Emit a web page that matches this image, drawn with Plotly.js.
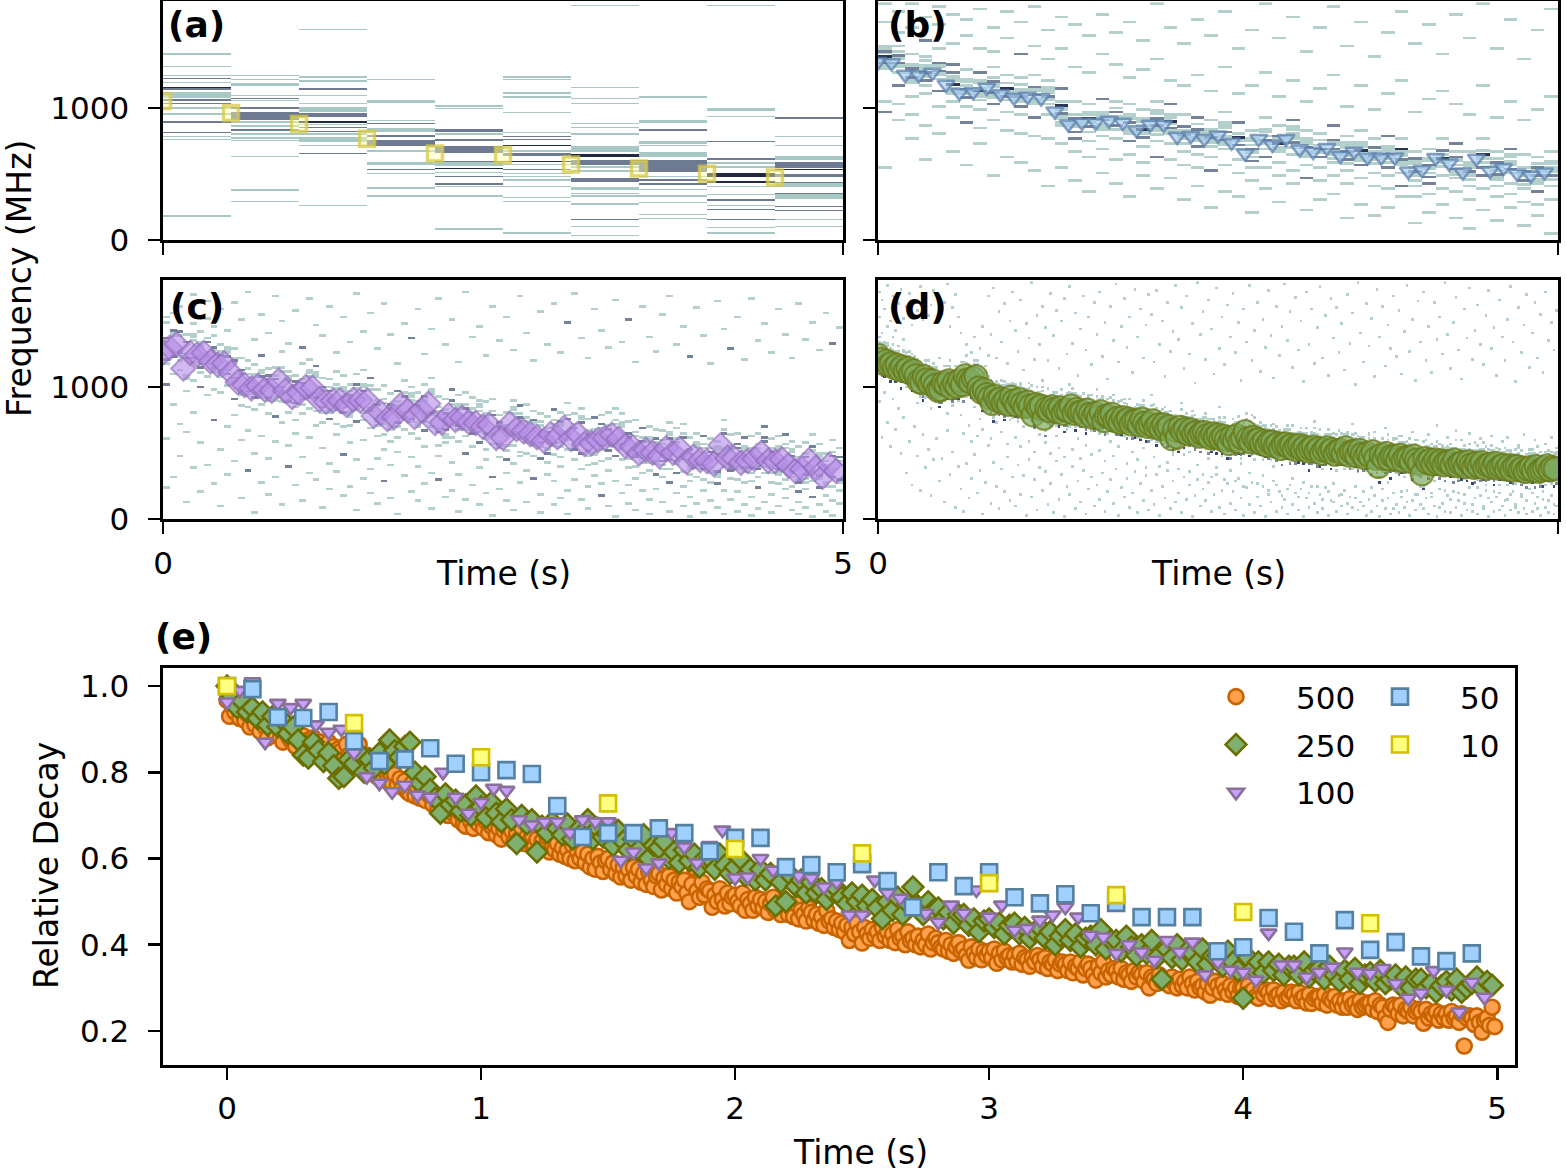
<!DOCTYPE html>
<html><head><meta charset="utf-8">
<script src="https://cdn.plot.ly/plotly-3.0.1.min.js"></script>
<style>html,body{margin:0;padding:0;background:#fff}#chart{width:1566px;height:1173px}</style>
</head><body><div id="chart"></div>
<script>
const W = 1566, H = 1173;
const FONT = 'DejaVu Sans, Liberation Sans, sans-serif';

// ---------------- data: relative decay (panel e) ----------------
const seriesNames = ['500', '250', '100', '50', '10'];
const decay500 = [0.967,0.93,0.955,0.94,0.96,0.925,0.945,0.92,0.935,0.905,
0.93,0.91,0.925,0.895,0.915,0.905,0.88,0.92,0.9,0.89,
0.905,0.88,0.87,0.9,0.885,0.875,0.895,0.86,0.88,0.87,
0.885,0.86,0.875,0.855,0.88,0.865,0.85,0.87,0.845,0.86,
0.87,0.845,0.86,0.835,0.855,0.85,0.83,0.865,0.84,0.825,
0.85,0.82,0.865,0.83,0.815,0.84,0.805,0.825,0.81,0.79,
0.815,0.79,0.805,0.78,0.8,0.775,0.795,0.77,0.785,0.765,
0.78,0.755,0.75,0.775,0.745,0.765,0.74,0.76,0.735,0.75,
0.745,0.725,0.74,0.715,0.735,0.71,0.73,0.7,0.72,0.705,
0.71,0.69,0.705,0.68,0.675,0.7,0.685,0.67,0.695,0.68,
0.69,0.67,0.685,0.66,0.675,0.68,0.655,0.67,0.645,0.665,
0.675,0.65,0.665,0.64,0.66,0.645,0.67,0.635,0.65,0.64,
0.655,0.63,0.645,0.62,0.64,0.625,0.65,0.615,0.635,0.62,
0.635,0.61,0.625,0.605,0.62,0.6,0.63,0.595,0.615,0.6,
0.615,0.59,0.61,0.58,0.6,0.575,0.605,0.59,0.57,0.595,
0.6,0.575,0.59,0.565,0.585,0.557,0.58,0.56,0.575,0.55,
0.58,0.56,0.575,0.545,0.565,0.54,0.57,0.55,0.535,0.56,
0.565,0.527,0.555,0.54,0.56,0.53,0.55,0.52,0.545,0.535,
0.55,0.52,0.5,0.54,0.578,0.525,0.51,0.545,0.515,0.53,
0.525,0.487,0.515,0.5,0.53,0.505,0.49,0.52,0.495,0.51,
0.515,0.5,0.49,0.52,0.48,0.505,0.495,0.48,0.51,0.49,
0.505,0.485,0.5,0.475,0.495,0.51,0.48,0.49,0.47,0.5,
0.49,0.47,0.485,0.465,0.495,0.46,0.48,0.47,0.455,0.485,
0.475,0.457,0.47,0.45,0.465,0.445,0.48,0.455,0.46,0.44,
0.455,0.435,0.45,0.43,0.445,0.41,0.44,0.425,0.45,0.43,
0.404,0.44,0.425,0.415,0.435,0.42,0.43,0.41,0.44,0.42,
0.43,0.41,0.425,0.405,0.435,0.415,0.42,0.4,0.43,0.41,
0.415,0.4,0.42,0.395,0.41,0.4,0.425,0.39,0.405,0.415,
0.405,0.394,0.39,0.41,0.385,0.4,0.38,0.395,0.405,0.385,
0.39,0.375,0.364,0.395,0.38,0.37,0.39,0.365,0.385,0.375,
0.385,0.37,0.39,0.357,0.38,0.365,0.385,0.37,0.375,0.36,
0.375,0.36,0.38,0.355,0.37,0.365,0.35,0.37,0.36,0.375,
0.365,0.35,0.37,0.345,0.36,0.355,0.365,0.34,0.355,0.36,
0.355,0.34,0.36,0.335,0.35,0.345,0.36,0.33,0.345,0.355,
0.345,0.33,0.318,0.35,0.335,0.36,0.325,0.34,0.33,0.345,
0.34,0.325,0.345,0.32,0.335,0.33,0.315,0.34,0.325,0.335,
0.33,0.315,0.335,0.3,0.325,0.32,0.31,0.33,0.315,0.32,
0.32,0.305,0.325,0.31,0.3,0.32,0.305,0.315,0.3,0.325,
0.31,0.295,0.315,0.3,0.305,0.29,0.31,0.283,0.3,0.315,
0.305,0.29,0.31,0.295,0.285,0.305,0.29,0.3,0.28,0.3,
0.3,0.285,0.305,0.29,0.295,0.28,0.276,0.3,0.285,0.295,
0.29,0.275,0.295,0.28,0.285,0.27,0.29,0.275,0.28,0.29,
0.285,0.27,0.29,0.275,0.28,0.265,0.285,0.264,0.275,0.28,
0.28,0.265,0.285,0.26,0.275,0.27,0.28,0.26,0.27,0.255,
0.27,0.255,0.275,0.26,0.265,0.25,0.27,0.255,0.26,0.265,
0.265,0.25,0.27,0.245,0.26,0.255,0.232,0.22,0.25,0.26,
0.255,0.24,0.26,0.235,0.25,0.245,0.255,0.235,0.245,0.25,
0.245,0.218,0.25,0.23,0.24,0.235,0.245,0.225,0.24,0.23,
0.24,0.225,0.245,0.23,0.235,0.22,0.24,0.165,0.23,0.235,
0.23,0.215,0.235,0.22,0.197,0.225,0.23,0.213,0.255,0.21];

const decay250 = [1.0,0.975,0.95,0.965,0.94, 0.95,0.925,0.94,0.91,0.93,
0.905,0.92,0.89,0.905,0.875, 0.84,0.833,0.87,0.85,0.825,
0.845,0.815,0.786,0.79,0.83, 0.82,0.845,0.8,0.83,0.81,
0.845,0.82,0.875,0.85,0.835, 0.86,0.87,0.8,0.775,0.79,
0.76,0.74,0.705,0.75,0.725, 0.735,0.71,0.725,0.7,0.745,
0.72,0.695,0.73,0.705,0.685, 0.715,0.69,0.635,0.7,0.68,
0.69,0.615,0.675,0.66,0.685, 0.67,0.655,0.68,0.645,0.665,
0.66,0.69,0.645,0.67,0.65, 0.655,0.63,0.665,0.64,0.62,
0.645,0.62,0.655,0.6,0.63, 0.625,0.64,0.6,0.615,0.59,
0.62,0.595,0.61,0.58,0.6, 0.6,0.575,0.61,0.585,0.565,
0.58,0.6,0.56,0.575,0.55, 0.575,0.55,0.565,0.49,0.545,
0.5,0.56,0.535,0.55,0.52, 0.545,0.52,0.53,0.505,0.525,
0.53,0.51,0.495,0.52,0.5, 0.515,0.49,0.505,0.485,0.46,
0.5,0.48,0.51,0.47,0.495, 0.534,0.49,0.47,0.5,0.48,
0.485,0.46,0.475,0.45,0.47, 0.47,0.445,0.46,0.43,0.455,
0.46,0.44,0.45,0.425,0.445, 0.45,0.425,0.44,0.415,0.43,
0.44,0.415,0.43,0.4,0.42, 0.435,0.41,0.425,0.395,0.415,
0.42,0.4,0.435,0.39,0.41, 0.41,0.385,0.42,0.395,0.375,
0.4,0.38,0.41,0.37,0.32, 0.39,0.37,0.4,0.365,0.385,
0.38,0.36,0.39,0.355,0.375, 0.375,0.35,0.385,0.36,0.34,
0.276,0.37,0.345,0.36,0.335, 0.36,0.34,0.355,0.33,0.35,
0.35,0.33,0.36,0.325,0.34, 0.345,0.32,0.35,0.33,0.315,
0.34,0.32,0.345,0.31,0.33, 0.335,0.315,0.34,0.31,0.32,
0.33,0.305,0.325,0.3,0.32, 0.32,0.3,0.31,0.29,0.305,
0.315,0.295,0.32,0.29,0.3, 0.31,0.325,0.3,0.315,0.306];

const decay100 = [0.963,0.99,1.01,0.87,0.96,0.95,0.96,0.91,0.893,0.90,
0.845,0.79,0.775,0.755,0.77,0.747,0.742,0.80,0.742,0.705,
0.73,0.763,0.758,0.69,0.678,0.685,0.685,0.66,0.69,0.685,
0.685,0.596,0.615,0.578,0.59,0.66,0.627,0.59,0.63,0.666,
0.555,0.557,0.60,0.573,0.585,0.56,0.555,0.534,0.545,0.469,
0.469,0.55,0.52,0.508,0.492,0.473,0.452,0.492,0.473,0.527,
0.464,0.492,0.434,0.438,0.457,0.469,0.487,0.464,0.422,0.418,
0.38,0.40,0.383,0.364,0.41,0.383,0.406,0.33,0.36,0.341,
0.336,0.318,0.427,0.353,0.353,0.325,0.336,0.348,0.383,0.336,
0.334,0.345,0.31,0.276,0.288,0.34,0.295,0.244,0.313,0.278];

const decay50 = [1.0,0.993,0.928,0.926,0.94,0.872,0.826,0.83,0.856,0.82,
0.80,0.805,0.796,0.722,0.65,0.659,0.659,0.67,0.659,0.617,
0.648,0.648,0.58,0.585,0.568,0.587,0.548,0.487,0.568,0.536,
0.568,0.51,0.496,0.517,0.473,0.497,0.464,0.464,0.464,0.385,
0.394,0.462,0.43,0.38,0.457,0.388,0.406,0.373,0.362,0.38];

const decay10 = [1.0,0.914,0.835,0.728,0.622,0.612,0.543,0.515,0.476,0.45];

// initial frequency (MHz) of each tracked peak in panels (a)-(d)
const f0A = 1053, f0B = 1350, f0C = 1310, f0D = 1240;

// ---------------- data: spectrogram lines ----------------
// absolute tokens "NNNx": 10-MHz bin NNN, x=a light / b mid / c dark, repeated letter = thicker line
// after "/", tokens relative (in bins) to the tracked peak of that time bin
const specA = [
"140aa 131a 124a 122b 119a 115c 114b 108aaaa 105bb 103b 099aa 095a 089b 081b 078a 076a 018a",
"124a 121a 117aa 109a 107b 105a 099bb 091bbbbbb 089a 086a 083b 080a 077a 075a 063a 037aa 029a",
"159a 123a 120a 114b 109a 103a 097aaaa 093bbb 089c 087a 085b 082b 080a 074aaaa 071a 065b 026a",
"121a 104aa 090a 088b 082aaa 078bb 071bbbbb 067a 057aa 053b 050a 039a 033a",
"101a 099a 082bb 080a 075bb 066bbbbb 059b 056aaa 054c 051a 048b 042b 040a 033a 008a",
"123a 121a 111a 108a 096a 081a 078b 076b 071c 067a 064bb 059c 057a 053b 050a 048a 045a 040a 032a 029a 005a",
"177a 115a 107a 103a 088a 085a 080a 067aaaa 063cc 057bbbb 055a 052a 044bbb 038aa 035a 033a 027a 015b 010a 003a",
"108a 089aa 083b 073aa 071a 063aaaa 052bbbbbbbbb 048a 045b 042b 038a 033a 028a 019a 016a",
"177a 098aa 093a 074b 061b 058a 055a 048ccc 043cc 040a 034a 030b 026a 023b 015b 009a 005a",
"092b 078a 071a 061aaa 055bbbb 053c 048bb 043b 040aaa 031aaaaa 035b 025b 022b 015a 010a"
];

const specB = [
"178a164a142b104a096b054a/-6aa -2b +0aa +3c +6a +9aa",
"172a156a146a116b102a090a/-8a -4aa -1b +2aa +5b +8a",
"178a160a140a108a094a076a/-7aa -3b +1aaa +4b +7a",
"168a150b138a110a086a060a/-9a -5b -2aa +1c +4aa +10a",
"176a162a144a112b100a080a/-6a -3aa +0b +3aa +6b",
"170a148a132b104a092a066a/-8aa -4a -1c +2aa +5a +8b",
"166a154a128a100a088b056a/-5b -2aa +1b +4a +7aa",
"174a144a126b098a084a072a/-7a -4aa +0c +2a +6aa",
"160a142a130a102b090a048a/-9aa -5b -1aa +3b +6a",
"172a152a124a096a082a062a/-6a -3b +0aa +3c +7a",
"164a140b122a094a080a058a/-8b -4aa +0b +2aa +5a +9a",
"176a146a124a092b078a052a/-7aa -3a +0c +3aa +6b",
"158a136a120a094a076a040a/-5a -2aa +1b +4aa +8a",
"168a144a114b086a072a054a/-9a -6aa -2b +1aa +4c +7a",
"162a130a104a076b066a044a/-7b -3aa +0aa +3b +6a",
"154a126a102a074a062a036a/-8a -4b -1aa +2c +5aa",
"170a140a106b078a068a050a/-6aa -2a +1b +3aa +7a",
"156a132a104a076a060a042a/-7a -4b +0aa +3a +6b +9a",
"164a122a102a074b064a032a/-9aa -5a -1b +2aa +5a",
"150a128a098a070a058a048a/-6b -3aa +0c +3a +6aa",
"178a136a104a074a062b038a/-8a -5aa -1b +2a +4b +8aa",
"160a120a102b072a060a046a/-7aa -3b +0a +2c +5aa",
"148a116a094a066a056a030a/-6a -2aa +1b +4a +7b",
"166a124a092b064a054a040a/-9b -5aa -2a +1aa +4b +8a",
"154a112a090a062a052b024a/-7a -4aa +0b +3aa +6a",
"172a130a096a068a056a036a/-8aa -4b -1a +2b +5aa +9a",
"144a110a088b060a050a032a/-6a -3b +0aa +3c +6a",
"158a116a082a054a044a020a/-7b -4a -1aa +2b +5a +8aa",
"178a126a092a062b054a038a/-9a -5aa -2b +1a +4aa",
"152a108a086a058a048a028a/-6aa -3a +0c +2aa +6b",
"168a120a090b064a052a042a/-8a -4b -1aa +3a +6aa",
"142a104a082a056a046b022a/-7aa -3a +0b +3aa +7a",
"160a114a080a054a044a030a/-5b -2aa +1c +4a +8a",
"176a124a086b058a048a034a/-9a -6aa -2b +1aa +5b",
"146a100a078a052a042a016a/-7a -4b -1aa +2b +5aa +9a",
"164a116a082a056b046a026a/-8aa -4a +0c +3aa +6a",
"138a098a076a050a040a018a/-6a -3aa +0b +3a +6b",
"156a110a078b048a038a024a/-9b -5a -2aa +1b +4aa +7a",
"172a120a076a050a040b032a/-7aa -3b +0a +2aa +5c",
"148a096a066a040a032a012a/-8a -4aa -1b +2a +5aa +9b",
"162a106a068a042b034a020a/-6b -3a +0aa +3b +6aa",
"140a112a076a048a038a026a/-7a -4aa -1c +2a +5b",
"170a102a072b046a036a016a/-9aa -5b -2a +1aa +4b +8a",
"152a094a066a040a030a008a/-6a -3aa +0b +3aa +7a",
"178a116a076a048b038a022a/-8b -4a -1aa +2c +5a",
"144a092a066a040a032a014a/-7aa -3b +0a +3aa +6b +9a",
"166a104a068b042a034a024a/-5a -2b +1aa +4a +7aa",
"136a090a064a038a028a010a/-9a -6b -2aa +1b +4a",
"158a098a062a036b026a018a/-7aa -4a -1b +2aa +5b +8a",
"174a108a066a040a030a004a/-6a -3b +0aa +3a +6aa"
];

const specC = [
"152a101b148a060a023a/-9a-6b+7a+10b","109a155a086a142b031a/-8b-5a+8aa+11a","160a112a047a119a071a/-10a-7b+6a+9b","096a139a133b065a012a/-9aa-6a+7b+10a","104a147a169a080a038a/-8a-5b+8a+11aa",
"141a099b057a110a020a/-10b-7a+6aa+9a","107a151a093a040a164a/-9a-6aa+7b+10a","138a097a074b145a026a/-8a-5b+8a+10b","095a131a052a158a009a/-10a-7aa+6b+9a","142a100a069a122b033a/-9b-6a+7aa+11a",
"128a090b043a163a078a/-8a-5b+8b+10a","085a121a150a059a015a/-10aa-7a+6a+9b","119a084a171a036b066a/-9a-6b+7a+11a","082a116a135a049a004a/-8b-5a+8aa+10a","123b086a062a154a027a/-10a-6a+6b+9aa",
"079a113a045a140a018a/-9a-7b+7a+10b","114a077b168a058a031a/-8aa-5a+8b+11a","088a126a072a149a010a/-10a-6b+6a+9a","111a080a039b132a055a/-9b-7a+7aa+10a","074a108a157a025a064a/-8a-5b+8a+11b",
"117a079a046a129b013a/-10a-6aa+6b+9a","083a120a166a061a034a/-9a-7b+7a+10aa","115b081a029a146a070a/-8b-5a+8aa+11a","072a106a138a053a008a/-10a-6b+6a+9b","105a075b160a041a022a/-9aa-7a+7b+10a",
"071a111a125a063a035a/-8a-5b+8a+11a","108a069a048b152a017a/-10b-6a+6aa+9a","101a070a133a024a057a/-9a-7aa+7b+10a","073b109a170a044a006a/-8a-5b+8a+11b","112a074a141a059a030a/-10a-6a+6b+9aa",
"068a106b037a155a019a/-9b-7a+7a+10a","097a062a128a045a011a/-8a-5aa+8b+11a","063a100a162a028b052a/-10a-6b+6a+9a","094a058a139a015a040a/-9aa-7a+7aa+10b","096b061a117a050a003a/-8a-5b+8a+11a",
"067a104a147a032a075a/-10b-6a+6b+9a","099a064a020a136b046a/-9a-7b+7a+10aa","060a095a158a039a013a/-8aa-5a+8b+11a","101a066b124a054a026a/-10a-6aa+6a+9b","069a106a143a034a007a/-9a-7b+7aa+10a",
"092a055a166a029b047a/-8b-5a+8a+11a","057a090a131a016a061a/-10a-6b+6b+9a","097b061a150a042a021a/-9aa-7a+7a+10b","058a093a118a033a005a/-8a-5b+8aa+11a","095a062a171a049b014a/-10a-6a+6b+9a",
"054a091a137a025a066a/-9b-7aa+7a+10a","089a057b145a038a010a/-8a-5b+8a+11aa","052a088a123a019a044a/-10a-6b+6aa+9a","090a056a160a031b002a/-9a-7a+7b+10a","078a046a134a022a057a/-8aa-5b+8a+11b",
"044b080a152a013a034a/-10a-6a+6b+9a","089a055a127a041a006a/-9b-7b+7a+10aa","050a085b168a027a047a/-8a-5aa+8b+11a","086a049a140a012a036a/-10a-6b+6a+9a","047a081a119a030b058a/-9aa-7a+7aa+10b",
"079a045b156a018a004a/-8a-5b+8a+11a","042a077a131a033a052a/-10b-6a+6b+9a","082b048a162a010a028a/-9a-7b+7a+10a","046a080a125a039a015a/-8a-5a+8aa+11b","087a052a148b021a003a/-10a-6aa+6b+9a",
"044a079a170a029a055a/-9b-7a+7a+10a","083a049b136a014a037a/-8a-5b+8b+11aa","040a075a121a024a007a/-10a-6b+6a+9a","076b041a158a032a050a/-9aa-7a+7aa+10a","043a078a142a017b026a/-8a-5b+8a+11b",
"080a045a129a009a036a/-10b-6a+6b+9a","047b083a165a028a001a/-9a-7aa+7a+10a","079a044a133a019a053a/-8a-5b+8aa+11a","038a073a150b025a011a/-10a-6a+6b+9b","074a039a118a006a030a/-9b-7b+7a+10a",
"034a068b160a021a045a/-8a-5a+8b+11a","069a036a137a014a003a/-10a-6b+6aa+9a","033b067a126a042a022a/-9aa-7a+7a+10b","066a031a154a012a037a/-8a-5b+8a+11a","037a072a168a027b005a/-10b-6a+6b+9aa",
"068a034b131a019a041a/-9a-7b+7a+10a","035a071a145a009a024a/-8aa-5a+8b+11a","061a028a122b016a001a/-10a-6aa+6a+9b","031a064a159a038a011a/-9a-7a+7aa+10a","062b029a138a021a004a/-8b-5b+8a+11a",
"027a060a117a035a013a/-10a-6a+6b+9a","058a026b164a008a031a/-9a-7b+7a+10aa","039a074a143a021a003a/-8a-5aa+8b+11a","063a030a128b014a038a/-10b-6a+6a+9a","029a064a152a005a020a/-9aa-7a+7b+10b",
"061b027a120a036a010a/-8a-5b+8aa+11a","028a062a166a016a002a/-10a-6b+6a+9a","064a031a134a023b007a/-9b-7a+7a+10a","034a069b147a012a039a/-8a-5a+8b+11b","060a027a125a018a004a/-10a-6aa+6b+9a",
"026a062a158a033a009a/-9a-7b+7aa+10a","063b029a139a015a022a/-8aa-5a+8a+11a","024a058a121a006a031a/-10a-6b+6b+9aa","054a020b162a012a003a/-9b-7a+7a+10a","022a057a135a027a008a/-8a-5b+8b+11a",
"063a028a148a016b001a/-10a-6a+6a+9b","023b056a127a010a030a/-9aa-7b+7aa+10a","049a017a155a025a005a/-8a-5a+8a+11a","059a024a132b013a002a/-10b-6aa+6b+9a","021a053a144a029a011a/-9a-7b+7a+10b"
];

const specD = [
"171a152a088a/+9a-9b-12c+13a","165a140a061a/+11a-10a-13b+8a","158a133a095a/+8a-11c-9a+14a","176a145a072a/+12a-12b-9a+10a","149a128a054a/+10a-9b-14c+8a","168a137a090a/+9a-13a-10b+13a","155a142a067a/+8a-12c-10a+11a","162a130a083a/+13a-9b-11a+9a","173a147a049a/+8a-10b-15c+10a","151a135a076a/+11a-9a-12b+12a",
"160a112a034a/+9a-10c-13a+13a","170a104a058a/+12a-9b-12b+8a","146a096a025a/+9a-11a-14c+14a","164a118a069a/+10a-10b-13a+9a","157a087a047a/+8a-9c-12b+11a","175a109a021a/+13a-12a-10b+9a","150a099a063a/+9a-11b-14c+12a","167a091a038a/+11a-10a-9b+8a","153a115a052a/+9a-9c-13a+14a","161a083a017a/+10a-11b-10a+8a",
"172a106a044a/+12a-10a-12c+9a","148a094a060a/+8a-10b-13a+13a","166a121a028a/+9a-13c-10b+11a","154a089a045a/+11a-9a-11b+8a","163a101a012a/+8a-9b-14a+12a","177a079a066a/+13a-12c-9a+9a","145a113a033a/+10a-10a-12b+14a","159a085a050a/+8a-11b-9c+9a","169a097a008a/+12a-9a-13b+8a","152a108a039a/+9a-10c-11a+11a",
"140a078a022a/+10a-9b-12c+13a","118a064a005a/+12a-10a-14b+8a","131a092a041a/+8a-11c-9a+14a","102a070a015a/+11a-12b-10a+9a","125a058a030a/+10a-9b-13c+8a","137a084a048a/+9a-13a-10b+12a","110a062a019a/+8a-12c-10a+11a","128a075a036a/+13a-9b-11a+9a","145a067a003a/+8a-10b-15c+10a","115a081a027a/+11a-9a-12b+12a",
"168a123a055a/+9a-10c-13a+13a","139a060a011a/+12a-9b-12b+8a","174a098a042a/+9a-11a-14c+14a","121a072a024a/+10a-10b-13a+9a","156a087a007a/+8a-9c-12b+11a","133a065a037a/+13a-12a-10b+9a","162a103a020a/+9a-11b-14c+12a","117a056a046a/+11a-10a-9b+8a","149a091a013a/+9a-9c-13a+14a","171a076a031a/+10a-11b-10a+8a",
"142a061a009a/+12a-10a-12c+9a","126a082a040a/+8a-10b-13a+13a","165a054a018a/+9a-13c-10b+11a","112a069a032a/+11a-9a-11b+8a","147a095a002a/+8a-9b-14a+12a","136a058a044a/+13a-12c-9a+9a","178a073a016a/+10a-10a-12b+14a","120a050a029a/+8a-11b-9c+9a","153a086a006a/+12a-9a-13b+8a","131a063a038a/+9a-10c-11a+11a",
"160a104a021a/+10a-9b-12c+13a","144a057a035a/+12a-10a-14b+8a","119a071a010a/+8a-11c-9a+14a","170a049a026a/+11a-12b-10a+9a","138a088a004a/+10a-9b-13c+8a","157a062a043a/+9a-13a-10b+12a","113a053a014a/+8a-12c-10a+11a","149a079a033a/+13a-9b-11a+9a","166a046a001a/+8a-10b-15c+10a","124a067a024a/+11a-9a-12b+12a",
"175a101a018a/+9a-10c-13a+13a","132a052a039a/+12a-9b-12b+8a","155a084a007a/+9a-11a-14c+14a","108a060a028a/+10a-10b-13a+9a","143a045a012a/+8a-9c-12b+11a","168a075a036a/+13a-12a-10b+9a","127a055a003a/+9a-11b-14c+12a","152a092a022a/+11a-10a-9b+8a","116a048a031a/+9a-9c-13a+14a","163a070a009a/+10a-11b-10a+8a",
"139a097a025a/+12a-10a-12c+9a","171a051a014a/+8a-10b-13a+13a","122a066a034a/+9a-13c-10b+11a","148a043a005a/+11a-9a-11b+8a","105a080a020a/+8a-9b-14a+12a","160a058a029a/+13a-12c-9a+9a","134a047a011a/+10a-10a-12b+14a","177a073a037a/+8a-11b-9c+9a","118a054a002a/+12a-9a-13b+8a","145a089a023a/+9a-10c-11a+11a",
"166a062a016a/+10a-9b-12c+13a","129a041a030a/+12a-10a-14b+8a","152a077a008a/+8a-11c-9a+14a","110a050a019a/+11a-12b-10a+9a","173a069a035a/+10a-9b-13c+8a","137a044a004a/+9a-13a-10b+12a","158a085a026a/+8a-12c-10a+11a","121a053a013a/+13a-9b-11a+9a","146a038a032a/+8a-10b-15c+10a","169a064a006a/+11a-9a-12b+12a",
"154a093a021a/+9a-10c-13a+13a","118a046a010a/+12a-9b-12b+8a","172a071a033a/+9a-11a-14c+14a","131a039a002a/+10a-10b-13a+9a","149a082a024a/+8a-9c-12b+11a","107a057a015a/+13a-12a-10b+9a","163a042a036a/+9a-11b-14c+12a","126a076a007a/+11a-10a-9b+8a","141a050a028a/+9a-9c-13a+14a","176a065a012a/+10a-11b-10a+8a",
"135a037a019a/+12a-10a-12c+9a","159a087a004a/+8a-10b-13a+13a","113a048a031a/+9a-13c-10b+11a","168a060a014a/+11a-9a-11b+8a","124a035a025a/+8a-9b-14a+12a","147a074a001a/+13a-12c-9a+9a","102a052a017a/+10a-10a-12b+14a","178a040a029a/+8a-11b-9c+9a","139a068a009a/+12a-9a-13b+8a","156a033a022a/+9a-10c-11a+11a",
"120a079a013a/+10a-9b-12c+13a","165a045a027a/+12a-10a-14b+8a","143a031a005a/+8a-11c-9a+14a","109a061a018a/+11a-12b-10a+9a","174a038a033a/+10a-9b-13c+8a","128a084a008a/+9a-13a-10b+12a","152a047a021a/+8a-12c-10a+11a","116a029a003a/+13a-9b-11a+9a","161a066a026a/+8a-10b-15c+10a","137a036a011a/+11a-9a-12b+12a",
"170a054a020a/+9a-10c-13a+13a","125a028a006a/+12a-9b-12b+8a","148a072a030a/+9a-11a-14c+14a","104a041a015a/+10a-10b-13a+9a","158a024a002a/+8a-9c-12b+11a","133a059a023a/+13a-12a-10b+9a","176a034a010a/+9a-11b-14c+12a","119a078a027a/+11a-10a-9b+8a","142a044a004a/+9a-9c-13a+14a","163a026a016a/+10a-11b-10a+8a",
"111a063a009a/+12a-10a-12c+9a","150a032a024a/+8a-10b-13a+13a","129a055a001a/+9a-13c-10b+11a","172a021a018a/+11a-9a-11b+8a","138a070a012a/+8a-9b-14a+12a","106a039a028a/+13a-12c-9a+9a","160a025a005a/+10a-10a-12b+14a","123a049a020a/+8a-11b-9c+9a","145a017a008a/+12a-9a-13b+8a","177a058a014a/+9a-10c-11a+11a",
"134a022a003a/+10a-9b-12c+13a","156a067a025a/+12a-10a-14b+8a","114a030a010a/+8a-11c-9a+14a","167a050a019a/+11a-12b-10a+9a","127a016a006a/+10a-9b-13c+8a","149a061a022a/+9a-13a-10b+12a","103a027a001a/+8a-12c-10a+11a","171a043a015a/+13a-9b-11a+9a","131a019a008a/+8a-10b-15c+10a","158a055a024a/+11a-9a-12b+12a",
"117a073a011a/+9a-10c-13a+13a","144a024a004a/+12a-9b-12b+8a","175a047a018a/+9a-11a-14c+14a","121a014a007a/+10a-10b-13a+9a","153a062a023a/+8a-9c-12b+11a","108a020a002a/+13a-12a-10b+9a","166a056a013a/+9a-11b-14c+12a","136a012a026a/+11a-10a-9b+8a","159a040a005a/+9a-9c-13a+14a","125a066a017a/+10a-11b-10a+8a",
"147a018a009a/+12a-10a-12c+9a","112a052a021a/+8a-10b-13a+13a","169a011a003a/+9a-13c-10b+11a","132a045a016a/+11a-9a-11b+8a","155a071a008a/+8a-9b-14a+12a","101a015a024a/+13a-12c-9a+9a","178a035a006a/+10a-10a-12b+14a","140a058a012a/+8a-11b-9c+9a","118a009a020a/+12a-9a-13b+8a","162a048a002a/+9a-10c-11a+11a",
"130a064a014a/+10a-9b-12c+13a","151a023a005a/+12a-10a-14b+8a","107a060a017a/+8a-11c-9a+14a","173a031a009a/+11a-12b-10a+9a","137a054a001a/+10a-9b-13c+8a","160a013a022a/+9a-13a-10b+12a","115a068a007a/+8a-12c-10a+11a","146a027a015a/+13a-9b-11a+9a","128a051a003a/+8a-10b-15c+10a","168a007a019a/+11a-9a-12b+12a",
"122a044a010a/+9a-10c-13a+13a","157a062a004a/+12a-9b-12b+8a","109a020a016a/+9a-11a-14c+14a","141a057a008a/+10a-10b-13a+9a","176a012a021a/+8a-9c-12b+11a","126a049a002a/+13a-12a-10b+9a","150a065a013a/+9a-11b-14c+12a","104a018a006a/+11a-10a-9b+8a","164a053a018a/+9a-9c-13a+14a","133a010a024a/+10a-11b-10a+8a",
"171a058a007a/+12a-10a-12c+9a","119a025a015a/+8a-10b-13a+13a","145a063a003a/+9a-13c-10b+11a","110a016a019a/+11a-9a-11b+8a","163a047a009a/+8a-9b-14a+12a","135a070a001a/+13a-12c-9a+9a","152a008a022a/+10a-10a-12b+14a","124a055a011a/+8a-11b-9c+9a","178a021a005a/+12a-9a-13b+8a","139a061a017a/+9a-10c-11a+11a",
"113a014a004a/+10a-9b-12c+13a","148a052a020a/+12a-10a-14b+8a","167a066a008a/+8a-11c-9a+14a","127a019a013a/+11a-12b-10a+9a","105a059a002a/+10a-9b-13c+8a","158a011a018a/+9a-13a-10b+12a","136a050a006a/+8a-12c-10a+11a","174a064a023a/+13a-9b-11a+9a","120a005a010a/+8a-10b-15c+10a","142a057a015a/+11a-9a-12b+12a",
"161a023a003a/+9a-10c-13a+13a","131a060a017a/+12a-9b-12b+8a","116a009a007a/+9a-11a-14c+14a","153a054a021a/+10a-10b-13a+9a","172a015a001a/+8a-9c-12b+11a","128a062a012a/+13a-12a-10b+9a","144a020a005a/+9a-11b-14c+12a","108a048a016a/+11a-10a-9b+8a","165a006a019a/+9a-9c-13a+14a","137a058a009a/+10a-11b-10a+8a",
"119a013a002a/+12a-10a-12c+9a","150a061a014a/+8a-10b-13a+13a","175a018a006a/+9a-13c-10b+11a","133a046a020a/+11a-9a-11b+8a","103a008a010a/+8a-9b-14a+12a","159a055a004a/+13a-12c-9a+9a","125a016a018a/+10a-10a-12b+14a","146a063a007a/+8a-11b-9c+9a","169a003a013a/+12a-9a-13b+8a","114a052a022a/+9a-10c-11a+11a",
"140a019a005a/+10a-9b-12c+13a","163a059a011a/+12a-10a-14b+8a","121a007a016a/+8a-11c-9a+14a","154a050a002a/+11a-12b-10a+9a","110a014a020a/+10a-9b-13c+8a","171a056a008a/+9a-13a-10b+12a","134a004a013a/+8a-12c-10a+11a","148a061a017a/+13a-9b-11a+9a","127a010a003a/+8a-10b-15c+10a","157a053a009a/+11a-9a-12b+12a"
];

// tick values / labels
const freqTickVals = [0, 1000], freqTickText = ['0', '1000'];
const timeTickVals = [0, 5], timeTickText = ['0', '5'];
const eTimeTicks = [0, 1, 2, 3, 4, 5];
const eDecayTicks = [0.2, 0.4, 0.6, 0.8, 1.0], eDecayText = ['0.2', '0.4', '0.6', '0.8', '1.0'];

// ---------------- helpers ----------------
function times(n) { const t = []; for (let i = 0; i < n; i++) t.push(i * 5 / n); return t; }
function edges(n) { const e = []; for (let i = 0; i <= n; i++) e.push(i * 5 / n); return e; }
const NB = 180;
const yEdges = []; for (let r = 0; r <= NB; r++) yEdges.push(r * 10);
const LEV = { a: 1, b: 2, c: 3 };
function buildZ(cols, ridgeMHz, mult) {
  const n = cols.length, z = [];
  for (let r = 0; r < NB; r++) z.push(new Array(n).fill(null));
  cols.forEach((s, k) => {
    const parts = s.split('/');
    const put = (start, letters) => {
      const lv = LEV[letters[0]];
      const len = letters.length * mult;
      for (let j = 0; j < len; j++) {
        const b = start + j;
        if (b >= 0 && b < NB && (z[b][k] === null || z[b][k] < lv)) z[b][k] = lv;
      }
    };
    let m; const reA = /(\d{3})([abc]+)/g;
    while ((m = reA.exec(parts[0])) !== null) put(parseInt(m[1], 10), m[2]);
    if (parts[1] && ridgeMHz) {
      const base = Math.round(ridgeMHz[k] / 10);
      const reR = /([+-]?\d+)([abc]+)/g;
      while ((m = reR.exec(parts[1])) !== null) put(base + parseInt(m[1], 10), m[2]);
    }
  });
  return z;
}
const scale = (arr, f) => arr.map(v => v * f);

const freqA = scale(decay10, f0A), freqB = scale(decay50, f0B), freqC = scale(decay100, f0C), freqD = scale(decay250, f0D);

const CS = [[0, '#a8c8c5'], [0.333, '#a8c8c5'], [0.334, '#6e7a91'], [0.666, '#6e7a91'], [0.667, '#202940'], [1, '#202940']];
const CSB = [[0, '#b3d0cc'], [0.333, '#b3d0cc'], [0.334, '#74829a'], [0.666, '#74829a'], [0.667, '#2c3550'], [1, '#2c3550']];
const CSD = [[0, '#b3cfcc'], [0.333, '#b3cfcc'], [0.334, '#7886a0'], [0.666, '#7886a0'], [0.667, '#3a4574'], [1, '#3a4574']];

function heat(cols, ridge, ax, cs, mult) {
  return { type: 'heatmap', x: edges(cols.length), y: yEdges, z: buildZ(cols, ridge, mult), zmin: 0.5, zmax: 3.5,
    colorscale: cs, showscale: false, hoverinfo: 'skip', xaxis: 'x' + ax, yaxis: 'y' + ax };
}

const traces = [
  heat(specA, null, '', CS, 1),
  heat(specB, freqB, '2', CSB, 2),
  heat(specC, freqC, '3', CSB, 2),
  heat(specD, freqD, '4', CSD, 2),
  { type: 'scatter', mode: 'markers', x: times(10), y: freqA, xaxis: 'x', yaxis: 'y', showlegend: false, hoverinfo: 'skip',
    marker: { symbol: 'square', size: 15, color: 'rgba(255,255,170,0.45)', line: { color: 'rgba(215,200,70,0.75)', width: 3.5 } } },
  { type: 'scatter', mode: 'markers', x: times(50), y: freqB, xaxis: 'x2', yaxis: 'y2', showlegend: false, hoverinfo: 'skip',
    marker: { symbol: 'triangle-down', size: 15, color: 'rgba(165,200,240,0.65)', line: { color: 'rgba(90,125,170,0.7)', width: 2.5 } } },
  { type: 'scatter', mode: 'markers', x: times(100), y: freqC, xaxis: 'x3', yaxis: 'y3', showlegend: false, hoverinfo: 'skip',
    marker: { symbol: 'diamond', size: 19, color: 'rgba(180,140,230,0.62)', line: { color: 'rgba(140,105,180,0.6)', width: 2 } } },
  { type: 'scatter', mode: 'markers', x: times(250), y: freqD, xaxis: 'x4', yaxis: 'y4', showlegend: false, hoverinfo: 'skip',
    marker: { symbol: 'circle', size: 23, color: 'rgba(125,170,95,0.7)', line: { color: 'rgba(105,120,20,0.75)', width: 2 } } },
  // panel (e)
  { type: 'scatter', mode: 'markers', name: seriesNames[0], x: times(500), y: decay500, xaxis: 'x5', yaxis: 'y5', legend: 'legend', legendgroup: 'g1',
    marker: { symbol: 'circle', size: 15, color: '#ffa04d', line: { color: '#c86400', width: 2.6 } } },
  { type: 'scatter', mode: 'markers', name: seriesNames[1], x: times(250), y: decay250, xaxis: 'x5', yaxis: 'y5', legend: 'legend', legendgroup: 'g2',
    marker: { symbol: 'diamond', size: 16, color: '#80b070', line: { color: '#6b6e00', width: 2.6 } } },
  { type: 'scatter', mode: 'markers', name: seriesNames[2], x: times(100), y: decay100, xaxis: 'x5', yaxis: 'y5', legend: 'legend', legendgroup: 'g3',
    marker: { symbol: 'triangle-down', size: 14, color: '#c8a0ff', line: { color: '#8a7098', width: 2.6 } } },
  { type: 'scatter', mode: 'markers', name: seriesNames[3], x: times(50), y: decay50, xaxis: 'x5', yaxis: 'y5', legend: 'legend2', legendgroup: 'g4',
    marker: { symbol: 'square', size: 16, color: '#a0d0ff', line: { color: '#5580a0', width: 2.6 } } },
  { type: 'scatter', mode: 'markers', name: seriesNames[4], x: times(10), y: decay10, xaxis: 'x5', yaxis: 'y5', legend: 'legend2', legendgroup: 'g5',
    marker: { symbol: 'square', size: 16, color: '#ffff80', line: { color: '#d4c000', width: 2.6 } } }
];

const tickFont = { family: FONT, size: 31, color: '#000' };
function axisBase(extra) {
  return Object.assign({ showgrid: false, zeroline: false, showline: true, mirror: true, linecolor: '#000', linewidth: 2.6,
    ticks: 'outside', ticklen: 12, tickwidth: 2.6, tickcolor: '#000', tickfont: tickFont, tickmode: 'array', fixedrange: true }, extra);
}
const dx = p => p / W, dy = p => 1 - p / H;

const layout = {
  width: W, height: H, margin: { l: 0, r: 0, t: 0, b: 0 }, paper_bgcolor: '#fff', plot_bgcolor: '#fff',
  font: { family: FONT, color: '#000' },
  xaxis: axisBase({ domain: [dx(163), dx(843)], anchor: 'y', range: [0, 5], tickvals: timeTickVals, ticktext: timeTickText, showticklabels: false }),
  yaxis: axisBase({ domain: [dy(240), dy(1)], anchor: 'x', range: [0, 1810], tickvals: freqTickVals, ticktext: freqTickText, ticklabelstandoff: 13 }),
  xaxis2: axisBase({ domain: [dx(878), dx(1558)], anchor: 'y2', range: [0, 5], tickvals: timeTickVals, ticktext: timeTickText, showticklabels: false }),
  yaxis2: axisBase({ domain: [dy(240), dy(1)], anchor: 'x2', range: [0, 1810], tickvals: freqTickVals, ticktext: freqTickText, showticklabels: false }),
  xaxis3: axisBase({ domain: [dx(163), dx(843)], anchor: 'y3', range: [0, 5], tickvals: timeTickVals, ticktext: timeTickText, ticklabelstandoff: 3 }),
  yaxis3: axisBase({ domain: [dy(519), dy(280)], anchor: 'x3', range: [0, 1810], tickvals: freqTickVals, ticktext: freqTickText, ticklabelstandoff: 13 }),
  xaxis4: axisBase({ domain: [dx(878), dx(1558)], anchor: 'y4', range: [0, 5], tickvals: timeTickVals, ticktext: timeTickText, ticklabelstandoff: 3 }),
  yaxis4: axisBase({ domain: [dy(519), dy(280)], anchor: 'x4', range: [0, 1810], tickvals: freqTickVals, ticktext: freqTickText, showticklabels: false }),
  xaxis5: axisBase({ domain: [dx(163), dx(1515)], anchor: 'y5', range: [-0.252, 5.07], tickvals: eTimeTicks, ticktext: eTimeTicks.map(String), ticklabelstandoff: 2 }),
  yaxis5: axisBase({ domain: [dy(1065), dy(668)], anchor: 'x5', range: [0.121, 1.042], tickvals: eDecayTicks, ticktext: eDecayText, ticklabelstandoff: 13 }),
  legend: { x: dx(1176), xanchor: 'left', y: dy(670), yanchor: 'top', bgcolor: 'rgba(0,0,0,0)', font: { family: FONT, size: 31, color: '#000' },
    itemwidth: 110, traceorder: 'grouped', tracegroupgap: 4.5 },
  legend2: { x: dx(1340), xanchor: 'left', y: dy(670), yanchor: 'top', bgcolor: 'rgba(0,0,0,0)', font: { family: FONT, size: 31, color: '#000' },
    itemwidth: 110, traceorder: 'grouped', tracegroupgap: 4.5 },
  annotations: [
    { text: '<b>(a)</b>', x: dx(166), y: dy(25), xref: 'paper', yref: 'paper', xanchor: 'left', yanchor: 'middle', showarrow: false, font: { family: FONT, size: 36 } },
    { text: '<b>(b)</b>', x: dx(886), y: dy(25), xref: 'paper', yref: 'paper', xanchor: 'left', yanchor: 'middle', showarrow: false, font: { family: FONT, size: 36 } },
    { text: '<b>(c)</b>', x: dx(168), y: dy(306), xref: 'paper', yref: 'paper', xanchor: 'left', yanchor: 'middle', showarrow: false, font: { family: FONT, size: 36 } },
    { text: '<b>(d)</b>', x: dx(886), y: dy(306), xref: 'paper', yref: 'paper', xanchor: 'left', yanchor: 'middle', showarrow: false, font: { family: FONT, size: 36 } },
    { text: '<b>(e)</b>', x: dx(153), y: dy(636), xref: 'paper', yref: 'paper', xanchor: 'left', yanchor: 'middle', showarrow: false, font: { family: FONT, size: 36 } },
    { text: 'Frequency (MHz)', x: dx(19), y: dy(279), xref: 'paper', yref: 'paper', xanchor: 'center', yanchor: 'middle', textangle: -90, showarrow: false, font: { family: FONT, size: 33 } },
    { text: 'Time (s)', x: dx(503), y: dy(573), xref: 'paper', yref: 'paper', xanchor: 'center', yanchor: 'middle', showarrow: false, font: { family: FONT, size: 33 } },
    { text: 'Time (s)', x: dx(1218), y: dy(573), xref: 'paper', yref: 'paper', xanchor: 'center', yanchor: 'middle', showarrow: false, font: { family: FONT, size: 33 } },
    { text: 'Time (s)', x: dx(860), y: dy(1152), xref: 'paper', yref: 'paper', xanchor: 'center', yanchor: 'middle', showarrow: false, font: { family: FONT, size: 33 } },
    { text: 'Relative Decay', x: dx(46), y: dy(866), xref: 'paper', yref: 'paper', xanchor: 'center', yanchor: 'middle', textangle: -90, showarrow: false, font: { family: FONT, size: 33 } }
  ]
};

Plotly.newPlot('chart', traces, layout, { staticPlot: true, displayModeBar: false });
</script></body></html>
